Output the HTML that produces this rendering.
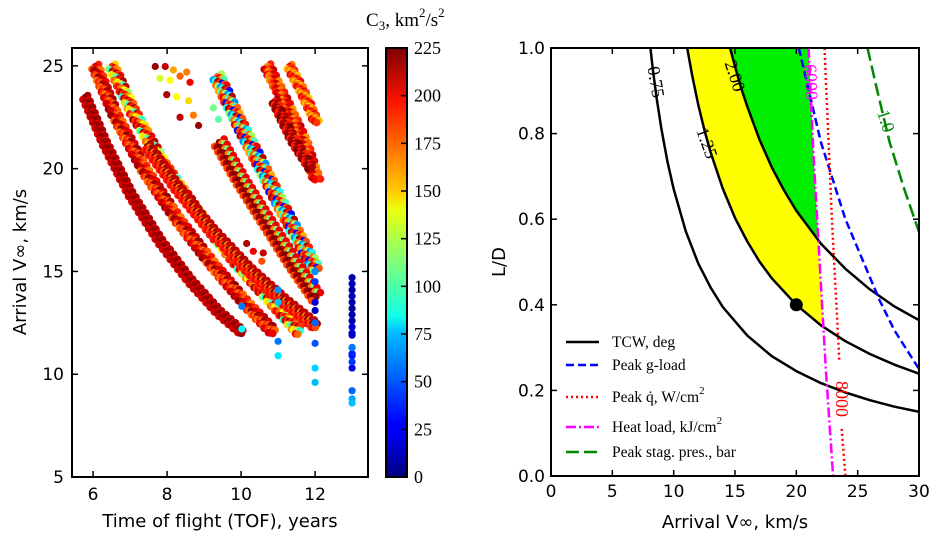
<!DOCTYPE html>
<html><head><meta charset="utf-8">
<style>
html,body{margin:0;padding:0;background:#fff;}
svg{display:block;}
.sans{font-family:"DejaVu Sans","Liberation Sans",sans-serif;}
.serif{font-family:"Liberation Serif","DejaVu Serif",serif;}
</style></head>
<body>
<svg id="fig" width="943" height="546" viewBox="0 0 943 546" xmlns="http://www.w3.org/2000/svg">
<defs>
<linearGradient id="jet" x1="0" y1="1" x2="0" y2="0">
<stop offset="0" stop-color="#00007f"/><stop offset="0.11" stop-color="#0000ff"/>
<stop offset="0.125" stop-color="#0000ff"/><stop offset="0.34" stop-color="#00c0ff"/>
<stop offset="0.375" stop-color="#10ffe6"/><stop offset="0.5" stop-color="#7dff7a"/>
<stop offset="0.625" stop-color="#ecff0a"/><stop offset="0.66" stop-color="#ffd000"/>
<stop offset="0.875" stop-color="#ff1300"/><stop offset="1" stop-color="#7f0000"/>
</linearGradient>
<clipPath id="clipL"><rect x="72" y="48" width="296" height="429"/></clipPath>
<clipPath id="clipR"><rect x="551" y="48" width="368" height="428"/></clipPath>
<clipPath id="clipHeat"><polygon id="heatClipPoly" points=""/></clipPath>
</defs>
<g id="left"></g>
<g id="cbar"></g>
<g id="right"></g>
</svg>
<script>
// ---------- LEFT SCATTER DATA ----------
const bandTof = [
 [5.78,6.3,7.0,7.8,8.6,9.4,10.05],
 [6.05,6.6,7.4,8.3,9.2,10.1,10.9],
 [6.5,7.1,7.9,8.8,9.8,10.8,11.6],
 [7.46,8.3,9.2,10.2,11.2,12.05],
 [9.35,9.9,10.5,11.2,12.05],
 [9.4,10.0,10.7,11.4,12.05],
 [10.7,11.2,11.7,12.05],
 [11.3,11.7,12.05],
 [10.9,11.4,11.9]
];
const bandV = [
 [23.5,21.3,18.8,16.5,14.6,13.0,12.0],
 [25,22.6,19.9,17.5,15.4,13.5,12.0],
 [25,22.7,20.2,17.9,15.6,13.6,12.0],
 [21.1,19.0,17.0,15.1,13.5,12.3],
 [24.5,22.4,20.3,17.8,15.0],
 [21.3,19.4,17.4,15.4,13.7],
 [25,23.2,21.3,19.4],
 [25,23.6,22.2],
 [23.3,21.4,20.0]
];
const bandC3 = [
 [215,220,205,225,210,200,218],
 [190,210,175,200,215,185,220,170,205],
 [150,185,120,200,95,175,210,165,190,140,215],
 [210,225,190,170,200,215,180],
 [120,180,60,200,90,160,215,100,190,175,30],
 [200,220,180,165,215,110,225],
 [190,165,210,175,200],
 [170,200,155,185],
 [215,190,225]
];
const bandWidth = [3,4,4,4,5,6,4,3,3];
const ptTof = [7.68,7.95,8.17,8.53,7.81,8.08,8.35,8.62,7.99,8.26,8.58,8.35,8.71,8.85,9.25,9.39,
 10.15,10.33,10.6,10.56,10.02,10.02,11.0,11.0,11.0,11.0,12.0,12.0,12.0,12.0,12.0,12.0,12.0,
 13,13,13,13,13,13,13,13,13,13,13,13,13,13,13,13,13,13,13,13,12.8];
const ptV = [24.97,24.97,24.8,24.7,24.4,24.3,24.5,24.2,23.6,23.5,23.3,22.5,22.6,22.1,22.96,22.4,
 16.36,15.98,15.9,15.5,13.3,12.2,14.1,13.5,11.6,10.9,14.5,13.5,13.1,12.5,11.5,10.3,9.6,
 14.7,14.4,14.1,13.8,13.5,13.2,12.9,12.6,12.3,12.0,11.9,11.3,10.9,10.3,9.2,8.8,8.6,11.0,10.6,11.3];
const ptC3 = [220,210,160,170,130,140,175,200,215,140,150,210,170,220,110,105,
 215,200,210,180,55,85,60,70,55,80,40,20,15,50,45,75,70,
 10,12,8,15,10,5,12,10,18,20,15,25,30,20,50,65,70,35,40,55];
const xTicksL = [6,8,10,12];
const yTicksL = [5,10,15,20,25];
const cbTicks = [0,25,50,75,100,125,150,175,200,225];

// ---------- RIGHT CHART DATA ----------
const tcw075V = [8.1,8.3,8.6,9,9.5,10,11,12,13,14,16,18,20,22,24,26,28,30];
const tcw075LD = [1.0,0.951,0.885,0.811,0.734,0.670,0.571,0.497,0.441,0.395,0.328,0.280,0.245,0.217,0.195,0.177,0.162,0.150];
const tcw125V = [11.1,11.5,12,12.5,13,14,15,16,17,18,20,22,24,26,28,30];
const tcw125LD = [1.0,0.937,0.868,0.809,0.757,0.672,0.603,0.548,0.501,0.462,0.40,0.352,0.315,0.285,0.26,0.239];
const tcw200V = [14.6,15,15.5,16,17,18,19,20,22,24,26,28,30];
const tcw200LD = [1.0,0.957,0.907,0.863,0.786,0.721,0.667,0.620,0.543,0.484,0.436,0.396,0.364];
const gloadV = [20.2,22,24,26.8,28,30];
const gloadLD = [1.0,0.78,0.60,0.41,0.34,0.25];
const qdotV1 = [22.3,22.9,23.5];
const qdotLD1 = [1.0,0.6,0.27];
const qdotV2 = [23.7,24.0];
const qdotLD2 = [0.11,0.0];
const heatV = [21.0,21.4,21.9,22.4,23.0];
const heatLD = [1.0,0.75,0.5,0.25,0.0];
const stagV = [25.8,26.6,27.6,28.8,30];
const stagLD = [1.0,0.9,0.78,0.67,0.57];
const designPt = [20, 0.40];
const xTicksR = [0,5,10,15,20,25,30];
const yTicksR = [0.0,0.2,0.4,0.6,0.8,1.0];

const NS = "http://www.w3.org/2000/svg";
function mk(tag, attrs, parent){const e=document.createElementNS(NS,tag);for(const k in attrs)e.setAttribute(k,attrs[k]);parent.appendChild(e);return e;}

function jet(v){
  const t=Math.max(0,Math.min(1,v/225));
  function c(x){return Math.max(0,Math.min(1,x));}
  const r=c(Math.min(4*t-1.5,-4*t+4.5)), g=c(Math.min(4*t-0.5,-4*t+3.5)), b=c(Math.min(4*t+0.5,-4*t+2.5));
  return `rgb(${Math.round(r*255)},${Math.round(g*255)},${Math.round(b*255)})`;
}

// Left axes
const L = {x0:72,x1:368,y0:48,y1:477,tmin:5.43,tmax:13.43,vmin:5,vmax:25.87};
const lx = t => L.x0 + (t-L.tmin)/(L.tmax-L.tmin)*(L.x1-L.x0);
const ly = v => L.y1 - (v-L.vmin)/(L.vmax-L.vmin)*(L.y1-L.y0);
const left = document.getElementById('left');
const dots = mk('g',{'clip-path':'url(#clipL)'},left);



bandTof.forEach((tofs,bi)=>{
  const vs=bandV[bi], cs=bandC3[bi], w=bandWidth[bi];
  let k=0;
  for(let s=0;s<tofs.length-1;s++){
    const xa=lx(tofs[s]),ya=ly(vs[s]),xb=lx(tofs[s+1]),yb=ly(vs[s+1]);
    const len=Math.hypot(xb-xa,yb-ya), n=Math.ceil(len/0.9);
    const nx=-(yb-ya)/len, ny=(xb-xa)/len;
    for(let i=0;i<n;i++){
      const f=i/n; const off=(((k*3)%7)-3)/3*w;
      const c=mk('circle',{cx:(xa+(xb-xa)*f+nx*off).toFixed(1),cy:(ya+(yb-ya)*f+ny*off).toFixed(1),r:3.8,fill:jet(cs[k%cs.length])},dots);
      
      
      k++;
    }
  }
});
ptTof.forEach((t,i)=>{
  const c=mk('circle',{cx:lx(t),cy:ly(ptV[i]),r:3.6,fill:jet(ptC3[i])},dots);
  
  
});
mk('rect',{x:L.x0,y:L.y0,width:L.x1-L.x0,height:L.y1-L.y0,fill:'none',stroke:'#000','stroke-width':2},left);
xTicksL.forEach(t=>{
  const x=lx(t);
  mk('line',{x1:x,y1:L.y1,x2:x,y2:L.y1-6,stroke:'#000','stroke-width':1.5},left);
  mk('line',{x1:x,y1:L.y0,x2:x,y2:L.y0+6,stroke:'#000','stroke-width':1.5},left);
  const tx=mk('text',{x:x,y:L.y1+23,'text-anchor':'middle','font-size':17,class:'sans'},left);
  tx.textContent=t;
  
  
});
yTicksL.forEach(v=>{
  const y=ly(v);
  mk('line',{x1:L.x0,y1:y,x2:L.x0+6,y2:y,stroke:'#000','stroke-width':1.5},left);
  mk('line',{x1:L.x1,y1:y,x2:L.x1-6,y2:y,stroke:'#000','stroke-width':1.5},left);
  const tx=mk('text',{x:L.x0-8,y:y+6,'text-anchor':'end','font-size':17,class:'sans'},left);
  tx.textContent=v;
  
  
});
let t1=mk('text',{x:220,y:527,'text-anchor':'middle','font-size':18,class:'sans'},left);
t1.textContent='Time of flight (TOF), years';


let t2=mk('text',{x:0,y:0,transform:'translate(26,262) rotate(-90)','text-anchor':'middle','font-size':18,class:'sans'},left);
t2.textContent='Arrival V\u221e, km/s';



// Colorbar
const cb=document.getElementById('cbar');
mk('rect',{x:386,y:48,width:21,height:429,fill:'url(#jet)',stroke:'#000','stroke-width':2},cb);
cbTicks.forEach(v=>{
  const y=477-v/225*429;
  mk('line',{x1:401,y1:y,x2:407,y2:y,stroke:'#000','stroke-width':1.5},cb);
  const tx=mk('text',{x:414,y:y+6,'font-size':18,class:'serif'},cb);
  tx.textContent=v;
  
  
});
let ct=mk('text',{x:366,y:26,'font-size':19,class:'serif'},cb);
ct.innerHTML='C<tspan dy="4" font-size="13">3</tspan><tspan dy="-4">, km</tspan><tspan dy="-9" font-size="13">2</tspan><tspan dy="9">/s</tspan><tspan dy="-9" font-size="13">2</tspan>';



// Right axes
const R={x0:551,x1:919,y0:48,y1:476};
const rx=v=>R.x0+v/30*(R.x1-R.x0);
const ry=d=>R.y1-d*(R.y1-R.y0);
const right=document.getElementById('right');
const pts=(xs,ys)=>xs.map((x,i)=>rx(x).toFixed(1)+','+ry(ys[i]).toFixed(1)).join(' ');
document.getElementById('heatClipPoly').setAttribute('points', rx(0)+','+ry(1.05)+' '+pts(heatV,heatLD)+' '+rx(0)+','+ry(0));
const fills=mk('g',{'clip-path':'url(#clipHeat)'},right);
let yf=mk('polygon',{points:pts(tcw125V,tcw125LD)+' '+rx(30)+','+ry(1.0),fill:'#ffff00'},fills);


let gf=mk('polygon',{points:pts(tcw200V,tcw200LD)+' '+rx(30)+','+ry(1.0),fill:'#00ee00'},fills);


const lines=mk('g',{'clip-path':'url(#clipR)',fill:'none','stroke-linejoin':'round'},right);
function line(xs,ys,st,name){const p=mk('polyline',Object.assign({points:pts(xs,ys)},st),lines);return p;}
line(tcw075V,tcw075LD,{stroke:'#000','stroke-width':2.5},'tcw-0.75-contour');
line(tcw125V,tcw125LD,{stroke:'#000','stroke-width':2.5},'tcw-1.25-contour');
line(tcw200V,tcw200LD,{stroke:'#000','stroke-width':2.5},'tcw-2.00-contour');
line(gloadV,gloadLD,{stroke:'#0000ff','stroke-width':2.5,'stroke-dasharray':'8,4'},'g-load-contour');
line(qdotV1,qdotLD1,{stroke:'#ff0000','stroke-width':2.5,'stroke-dasharray':'2,3'},'heat-rate-contour');
line(qdotV2,qdotLD2,{stroke:'#ff0000','stroke-width':2.5,'stroke-dasharray':'2,3'},'heat-rate-contour-lower');
line(heatV,heatLD,{stroke:'#ff00ff','stroke-width':2.5,'stroke-dasharray':'10,3,2,3'},'heat-load-contour');
line(stagV,stagLD,{stroke:'#008800','stroke-width':2.5,'stroke-dasharray':'13,5'},'stag-pressure-contour');
let dp=mk('circle',{cx:rx(designPt[0]),cy:ry(designPt[1]),r:6.5,fill:'#000'},right);


function clabel(txt,x,y,rot,color,name){
  const t=mk('text',{x:0,y:6,'text-anchor':'middle','font-size':18,fill:color,class:'serif',transform:`translate(${x},${y}) rotate(${rot})`},right);
  t.textContent=txt;
}
clabel('0.75',656,82,80,'#000','label-0.75');
clabel('1.25',707,143,70,'#000','label-1.25');
clabel('2.00',735,76,72,'#000','label-2.00');
clabel('6000',811,82,88,'#ff00ff','label-6000');
clabel('8000',842,399,90,'#ff0000','label-8000');
clabel('1.0',886,121,72,'#008800','label-1.0');
mk('rect',{x:R.x0,y:R.y0,width:R.x1-R.x0,height:R.y1-R.y0,fill:'none',stroke:'#000','stroke-width':2},right);
xTicksR.forEach(v=>{
  const x=rx(v);
  mk('line',{x1:x,y1:R.y1,x2:x,y2:R.y1-6,stroke:'#000','stroke-width':1.5},right);
  mk('line',{x1:x,y1:R.y0,x2:x,y2:R.y0+6,stroke:'#000','stroke-width':1.5},right);
  const tx=mk('text',{x:x,y:R.y1+21,'text-anchor':'middle','font-size':17,class:'sans'},right);
  tx.textContent=v;
});
yTicksR.forEach(v=>{
  const y=ry(v);
  mk('line',{x1:R.x0,y1:y,x2:R.x0+6,y2:y,stroke:'#000','stroke-width':1.5},right);
  mk('line',{x1:R.x1,y1:y,x2:R.x1-6,y2:y,stroke:'#000','stroke-width':1.5},right);
  const tx=mk('text',{x:R.x0-6,y:y+6,'text-anchor':'end','font-size':17,class:'sans'},right);
  tx.textContent=v.toFixed(1);
});
let t3=mk('text',{x:735,y:528,'text-anchor':'middle','font-size':18,class:'sans'},right);
t3.textContent='Arrival V\u221e, km/s';
let t4=mk('text',{x:0,y:0,transform:'translate(505,262) rotate(-90)','text-anchor':'middle','font-size':18,class:'sans'},right);
t4.textContent='L/D';
const leg=mk('g',{},right);


const legItems=[
 [342,{stroke:'#000'},'TCW, deg'],
 [365,{stroke:'#0000ff','stroke-dasharray':'8,4'},'Peak g-load'],
 [397,{stroke:'#ff0000','stroke-dasharray':'2,3'},'Peak q\u0307, W/cm<tspan dy="-8" font-size="11">2</tspan>'],
 [427,{stroke:'#ff00ff','stroke-dasharray':'10,3,2,3'},'Heat load, kJ/cm<tspan dy="-8" font-size="11">2</tspan>'],
 [452,{stroke:'#008800','stroke-dasharray':'13,5'},'Peak stag. pres., bar']
];
legItems.forEach(it=>{
  const g=mk('g',{},leg);
  
  
  mk('line',Object.assign({x1:566,y1:it[0],x2:599,y2:it[0],'stroke-width':2.5},it[1]),g);
  const t=mk('text',{x:612,y:it[0]+5,'font-size':15.5,class:'serif'},g);
  t.innerHTML=it[2];
});
</script>
</body></html>
